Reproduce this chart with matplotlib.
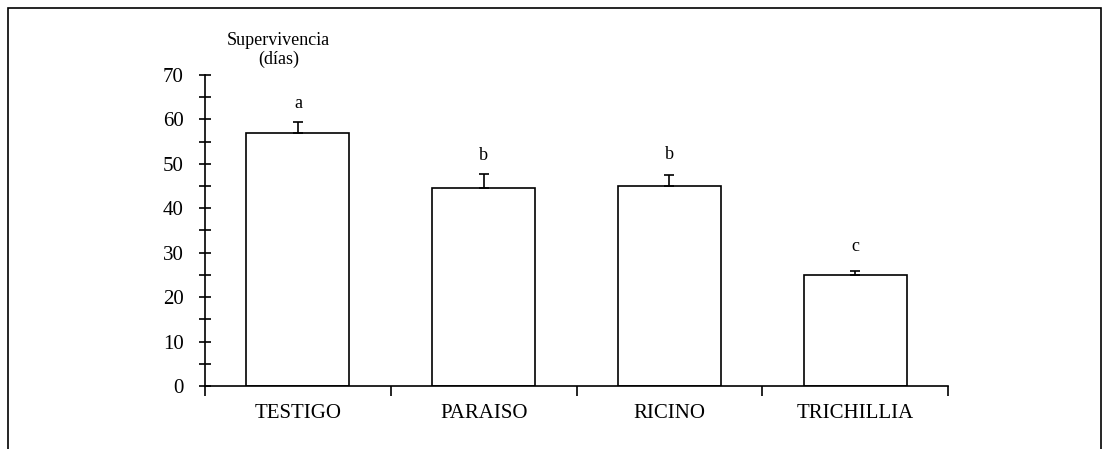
import numpy as np
import matplotlib.pyplot as plt
from matplotlib.patches import Rectangle
from matplotlib.ticker import MultipleLocator

plt.rcParams['font.family'] = ['Liberation Serif', 'DejaVu Serif']

tratamientos = ['TESTIGO', 'PARAISO', 'RICINO', 'TRICHILLIA']
supervivencia = [57.0, 44.5, 45.0, 24.9]
error = [2.5, 3.2, 2.5, 1.0]
letras = ['a', 'b', 'b', 'c']
pos_letras = [63.5, 51.8, 52.0, 31.3]

fig = plt.figure(figsize=(11.04, 4.49), dpi=100)
ax = fig.add_axes([0.1857, 0.1403, 0.673, 0.693])

x = np.arange(len(tratamientos))
ax.bar(x, supervivencia, width=0.555, color='white', edgecolor='black', linewidth=1.2,
       yerr=[np.zeros(len(error)), error], capsize=3.6,
       error_kw=dict(ecolor='black', elinewidth=1.2, capthick=1.2), zorder=2)

for xi, l, p in zip(x, letras, pos_letras):
    ax.text(xi, p, l, ha='center', va='center', fontsize=13)

ax.set_xlim(-0.5, len(tratamientos) - 0.5)
ax.set_ylim(0, 70)
ax.spines['top'].set_visible(False)
ax.spines['right'].set_visible(False)
ax.spines['left'].set_linewidth(1.2)
ax.spines['bottom'].set_linewidth(1.2)

ax.yaxis.set_major_locator(MultipleLocator(10))
ax.yaxis.set_minor_locator(MultipleLocator(5))
ax.tick_params(axis='y', which='both', direction='inout', length=9, width=1.2,
               labelsize=15, pad=11)

ax.set_xticks(np.arange(-0.5, len(tratamientos), 1.0))
ax.set_xticklabels([])
ax.set_xticks(x, minor=True)
ax.set_xticklabels(tratamientos, minor=True, fontsize=15)
ax.tick_params(axis='x', which='major', direction='out', length=7, width=1.2)
ax.tick_params(axis='x', which='minor', length=0, pad=13)

fig.text(0.2525, 0.888, 'Supervivencia\n(días)', ha='center', va='center',
         fontsize=13, linespacing=1.1)

# marco alrededor de la figura
fig.patches.append(Rectangle((0.0075, -0.05), 0.990, 1.032, transform=fig.transFigure,
                             fill=False, edgecolor='black', linewidth=1.2))

fig.savefig('out.png', dpi=100)
